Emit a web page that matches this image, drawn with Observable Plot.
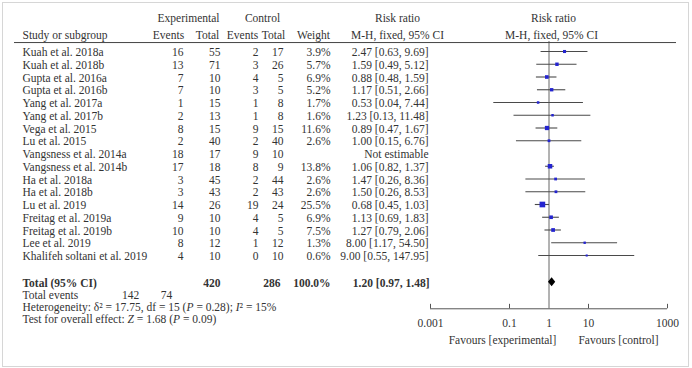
<!DOCTYPE html>
<html><head><meta charset="utf-8">
<script src="https://cdn.jsdelivr.net/npm/d3@7"></script>
<script src="https://cdn.jsdelivr.net/npm/@observablehq/plot@0.6"></script>
<style>
body{margin:0;background:#fff}
#wrap{position:relative;width:692px;height:368px;overflow:hidden;background:#fff}
#wrap svg{position:absolute;left:0;top:0;background:transparent}
#border{position:absolute;left:2px;top:2px;width:687px;height:365px;border:1px solid #d6d6d6;box-sizing:border-box}
</style></head><body><div id="wrap"><div id="border"></div></div>
<script>
// ---- data ----
const studies = ["Kuah et al. 2018a","Kuah et al. 2018b","Gupta et al. 2016a","Gupta et al. 2016b","Yang et al. 2017a","Yang et al. 2017b","Vega et al. 2015","Lu et al. 2015","Vangsness et al. 2014a","Vangsness et al. 2014b","Ha et al. 2018a","Ha et al. 2018b","Lu et al. 2019","Freitag et al. 2019a","Freitag et al. 2019b","Lee et al. 2019","Khalifeh soltani et al. 2019"];
const expEvents = [16,13,7,7,1,2,8,2,18,17,3,3,14,9,10,8,4];
const expTotal  = [55,71,10,10,15,13,15,40,17,18,45,43,26,10,10,12,10];
const ctlEvents = [2,3,4,3,1,1,9,2,9,8,2,2,19,4,4,1,0];
const ctlTotal  = [17,26,5,5,8,8,15,40,10,9,44,43,24,5,5,12,10];
const weight    = [3.9,5.7,6.9,5.2,1.7,1.6,11.6,2.6,null,13.8,2.6,2.6,25.5,6.9,7.5,1.3,0.6];
const rr        = [2.47,1.59,0.88,1.17,0.53,1.23,0.89,1.00,null,1.06,1.47,1.50,0.68,1.13,1.27,8.00,9.00];
const ciLo      = [0.63,0.49,0.48,0.51,0.04,0.13,0.47,0.15,null,0.82,0.26,0.26,0.45,0.69,0.79,1.17,0.55];
const ciHi      = [9.69,5.12,1.59,2.66,7.44,11.48,1.67,6.76,null,1.37,8.36,8.53,1.03,1.83,2.06,54.50,147.95];
const total = {expTotal:420, ctlTotal:286, weight:"100.0%", rr:1.20, lo:0.97, hi:1.48, expEvents:142, ctlEvents:74};
const heterogeneity = "Heterogeneity: δ² = 17.75, df = 15 (*P* = 0.28); *I*² = 15%";
const overall = "Test for overall effect: *Z* = 1.68 (*P* = 0.09)";
const axisTicks = [0.001, 0.1, 1, 10, 1000];
const axisTickLabels = ["0.001","0.1","1","10","1000"];
const favours = ["Favours [experimental]", "Favours [control]"];

// ---- layout (row index positions) ----
const FONT = "Liberation Serif, Times New Roman, serif";
const ROW_H1 = -2.65, ROW_H2 = -1.38, ROW_LINE = -0.78;
const ROW_TOTAL = 18.1, ROW_EVT = 19.05, ROW_HET = 19.98, ROW_TEST = 20.9;
const ROW_AXIS = 20.18, ROW_TICKLAB = 21.3, ROW_FAV = 22.55;
const TXT = "#333";

const rows = studies.map((s,i)=>({i, study:s, ee:expEvents[i], et:expTotal[i], ce:ctlEvents[i], ct:ctlTotal[i],
  w:weight[i], rr:rr[i], lo:ciLo[i], hi:ciHi[i],
  wtxt: weight[i]==null ? "" : weight[i].toFixed(1)+"%",
  rrtxt: rr[i]==null ? "Not estimable" : `${rr[i].toFixed(2)} [${ciLo[i].toFixed(2)}, ${ciHi[i].toFixed(2)}]`}));
const est = rows.filter(d=>d.rr!=null);
const fmtRR = (a,b,c)=>`${a.toFixed(2)} [${b.toFixed(2)}, ${c.toFixed(2)}]`;

// ---- table plot ----
const tcommon = {fontSize: 11.5, fill: TXT};
const headers = [
  {x:188,y:ROW_H1,t:"Experimental"},{x:262,y:ROW_H1,t:"Control"},
  {x:168,y:ROW_H2,t:"Events"},{x:207,y:ROW_H2,t:"Total"},{x:242,y:ROW_H2,t:"Events"},{x:273,y:ROW_H2,t:"Total"},{x:313,y:ROW_H2,t:"Weight"},
  {x:397,y:ROW_H1,t:"Risk ratio"},{x:397,y:ROW_H2,t:"M-H, fixed, 95% CI"},
  {x:553,y:ROW_H1,t:"Risk ratio"},{x:551,y:ROW_H2,t:"M-H, fixed, 95% CI"}
];
const table = Plot.plot({
  width: 692, height: 368, margin: 0,
  style: {fontFamily: FONT, background: "transparent"},
  x: {type: "identity", axis: null},
  y: {domain: [0,16], range: [52,256], axis: null},
  marks: [
    Plot.ruleY([ROW_LINE], {x1: 14, x2: 676, stroke: "#444", strokeWidth: 1}),
    Plot.text(headers, {x:"x", y:"y", text:"t", textAnchor:"middle", ...tcommon}),
    Plot.text(["Study or subgroup"], {x: 22, y: ROW_H2, textAnchor: "start", ...tcommon}),
    Plot.text(rows, {x: 22, y: "i", text: "study", textAnchor: "start", ...tcommon}),
    Plot.text(rows, {x: 183, y: "i", text: "ee", textAnchor: "end", ...tcommon}),
    Plot.text(rows, {x: 220, y: "i", text: "et", textAnchor: "end", ...tcommon}),
    Plot.text(rows, {x: 258, y: "i", text: "ce", textAnchor: "end", ...tcommon}),
    Plot.text(rows, {x: 283, y: "i", text: "ct", textAnchor: "end", ...tcommon}),
    Plot.text(rows, {x: 330, y: "i", text: "wtxt", textAnchor: "end", ...tcommon}),
    Plot.text(rows, {x: 428, y: "i", text: "rrtxt", textAnchor: "end", ...tcommon}),
    Plot.text(["Total (95% CI)"], {x: 22, y: ROW_TOTAL, textAnchor: "start", fontWeight: "bold", ...tcommon}),
    Plot.text([total.expTotal], {x: 220, y: ROW_TOTAL, textAnchor: "end", fontWeight: "bold", ...tcommon}),
    Plot.text([total.ctlTotal], {x: 280, y: ROW_TOTAL, textAnchor: "end", fontWeight: "bold", ...tcommon}),
    Plot.text([total.weight], {x: 330, y: ROW_TOTAL, textAnchor: "end", fontWeight: "bold", ...tcommon}),
    Plot.text([fmtRR(total.rr,total.lo,total.hi)], {x: 429, y: ROW_TOTAL, textAnchor: "end", fontWeight: "bold", ...tcommon}),
    Plot.text(["Total events"], {x: 22, y: ROW_EVT, textAnchor: "start", ...tcommon}),
    Plot.text([total.expEvents], {x: 130, y: ROW_EVT, textAnchor: "middle", ...tcommon}),
    Plot.text([total.ctlEvents], {x: 166, y: ROW_EVT, textAnchor: "middle", ...tcommon}),
    Plot.text([heterogeneity, overall], {x: 22, y: (d,i)=> i===0 ? ROW_HET : ROW_TEST, textAnchor: "start", ...tcommon}),
    Plot.text(favours, {x: (d,i)=> i===0 ? 502 : 618, y: ROW_FAV, textAnchor: "middle", ...tcommon})
  ]
});
// italics for P, Z, I (segments wrapped in *)
d3.select(table).selectAll("text").each(function(){
  const s = this.textContent;
  if (!s.includes("*")) return;
  const el = d3.select(this); el.text("");
  s.split("*").forEach((part,k)=>{ if(part) el.append("tspan").attr("font-style", k%2 ? "italic" : null).text(part); });
});

// ---- forest plot ----
const diamond = [
  {y: ROW_TOTAL-0.36, x1: total.rr, x2: total.rr},
  {y: ROW_TOTAL, x1: total.lo, x2: total.hi},
  {y: ROW_TOTAL+0.36, x1: total.rr, x2: total.rr}
];
const forest = Plot.plot({
  width: 692, height: 368, marginLeft: 430, marginRight: 25, marginTop: 0, marginBottom: 0,
  style: {fontFamily: FONT, background: "transparent"},
  x: {type: "log", domain: [0.001, 1000], axis: null},
  y: {domain: [0,16], range: [51,255], axis: null},
  r: {type: "sqrt", domain: [0, 25.5], range: [0.8, 3.2]},
  marks: [
    Plot.ruleX([1], {y1: ROW_LINE, y2: ROW_AXIS, stroke: "#666", strokeWidth: 1}),
    Plot.ruleY([ROW_AXIS], {x1: axisTicks[0], x2: axisTicks[axisTicks.length-1], stroke: "#555", strokeWidth: 1}),
    Plot.ruleX(axisTicks.filter(d=>d!==1), {y1: ROW_AXIS, y2: ROW_AXIS-0.35, stroke: "#555", strokeWidth: 1}),
    Plot.text(axisTicks, {x: d=>d, y: ROW_TICKLAB, text: (d,i)=>axisTickLabels[i], fontSize: 11.5, fill: TXT}),
    Plot.ruleY(est, {y: "i", x1: "lo", x2: "hi", stroke: "#4a4a4a", strokeWidth: 1.1}),
    Plot.dot(est, {x: "rr", y: "i", r: "w", symbol: "square", fill: "#2424d0", stroke: "none"}),
    Plot.areaX(diamond, {y: "y", x1: "x1", x2: "x2", fill: "#000", curve: "linear"})
  ]
});
const wrap = document.getElementById("wrap");
wrap.appendChild(forest);
wrap.appendChild(table);
</script>
</body></html>
